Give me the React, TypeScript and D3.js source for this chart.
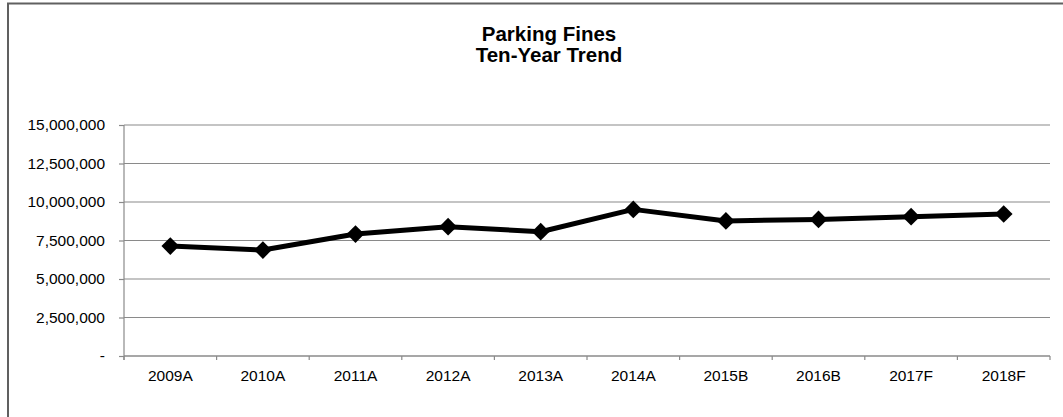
import { useEffect, useRef } from 'react';
import * as d3 from 'd3';

const categories = ['2009A', '2010A', '2011A', '2012A', '2013A', '2014A', '2015B', '2016B', '2017F', '2018F'];
const fines = [7140000, 6880000, 7920000, 8400000, 8070000, 9520000, 8770000, 8870000, 9050000, 9220000];
const yTicks = [0, 2500000, 5000000, 7500000, 10000000, 12500000, 15000000];
const titleLines = ['Parking Fines', 'Ten-Year Trend'];

export default function App() {
  const svgRef = useRef<SVGSVGElement>(null);
  const width = 1063;
  const height = 417;

  useEffect(() => {
    if (!svgRef.current) return;
    const svg = d3.select(svgRef.current);
    svg.selectAll('*').remove();

    const margin = { top: 125, right: 13, bottom: 61, left: 124 };
    const innerWidth = width - margin.left - margin.right;
    const innerHeight = height - margin.top - margin.bottom;
    const font = 'Arial, "Liberation Sans", Helvetica, sans-serif';

    // outer chart frame (runs past the window on right/bottom)
    svg.append('rect')
      .attr('x', 8)
      .attr('y', 3.5)
      .attr('width', 1100)
      .attr('height', 500)
      .attr('fill', 'white')
      .attr('stroke', '#606060')
      .attr('stroke-width', 2);

    // title
    const title = svg.append('text')
      .attr('x', 549)
      .attr('text-anchor', 'middle')
      .style('font-family', font)
      .style('font-size', '20.5px')
      .style('font-weight', 'bold')
      .style('fill', '#000');
    titleLines.forEach((t, i) => {
      title.append('tspan').attr('x', 549).attr('y', 41 + i * 21).text(t);
    });

    const g = svg.append('g')
      .attr('transform', `translate(${margin.left},${margin.top})`);

    const x = d3.scaleBand<string>()
      .domain(categories)
      .range([0, innerWidth]);

    const y = d3.scaleLinear()
      .domain([0, 15000000])
      .range([innerHeight, 0]);

    // gridlines
    g.selectAll('.grid')
      .data(yTicks)
      .enter().append('line')
      .attr('class', 'grid')
      .attr('x1', 0)
      .attr('x2', innerWidth)
      .attr('y1', d => y(d))
      .attr('y2', d => y(d))
      .attr('stroke', '#8a8a8a')
      .attr('stroke-width', 1.2);

    // y axis
    const yAxis = g.append('g')
      .call(d3.axisLeft(y)
        .tickValues(yTicks)
        .tickSize(5)
        .tickPadding(14)
        .tickFormat(d => (+d === 0 ? '-' : d3.format(',')(+d))));
    yAxis.select('.domain').remove();
    yAxis.append('line')
      .attr('x1', 0).attr('x2', 0)
      .attr('y1', 0).attr('y2', innerHeight + 4)
      .attr('stroke', '#8a8a8a')
      .attr('stroke-width', 1.2);

    // x axis
    const xAxis = g.append('g')
      .attr('transform', `translate(0,${innerHeight})`)
      .call(d3.axisBottom(x).tickSize(0).tickPadding(14));
    xAxis.select('.domain').remove();
    xAxis.append('line')
      .attr('x1', 0).attr('x2', innerWidth)
      .attr('stroke', '#8a8a8a')
      .attr('stroke-width', 1.2);
    const boundaries = categories.map(c => x(c) as number).concat([innerWidth]);
    xAxis.selectAll('.xtick')
      .data(boundaries)
      .enter().append('line')
      .attr('class', 'xtick')
      .attr('x1', d => d).attr('x2', d => d)
      .attr('y1', 0).attr('y2', 4)
      .attr('stroke', '#8a8a8a')
      .attr('stroke-width', 1.2);

    g.selectAll('.tick line').attr('stroke', '#8a8a8a').attr('stroke-width', 1.2);
    g.selectAll('.tick text')
      .style('font-family', font)
      .style('font-size', '15.5px')
      .style('fill', '#000');

    // line
    const cx = (c: string) => (x(c) as number) + x.bandwidth() / 2;
    const line = d3.line<number>()
      .x((d, i) => cx(categories[i]))
      .y(d => y(d));

    g.append('path')
      .datum(fines)
      .attr('fill', 'none')
      .attr('stroke', '#000')
      .attr('stroke-width', 5)
      .attr('stroke-linejoin', 'round')
      .attr('d', line);

    // diamond markers
    const diamond = d3.symbol().type(d3.symbolDiamond2).size(200);
    g.selectAll('.dot')
      .data(fines)
      .enter().append('path')
      .attr('class', 'dot')
      .attr('transform', (d, i) => `translate(${cx(categories[i])},${y(d)})`)
      .attr('d', diamond)
      .attr('fill', '#000');
  }, []);

  return (
    <svg
      ref={svgRef}
      width={width}
      height={height}
      style={{ position: 'absolute', left: 0, top: 0, background: 'white' }}
    />
  );
}
